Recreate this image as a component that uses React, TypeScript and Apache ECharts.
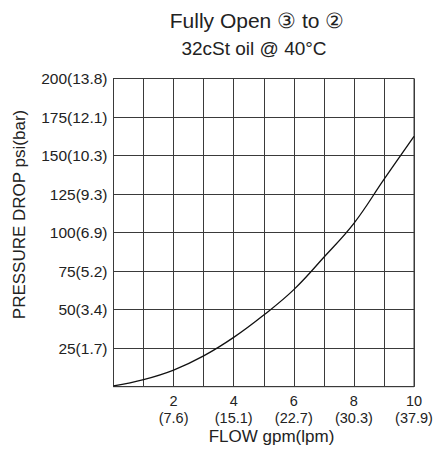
import React, { useEffect, useRef } from "react";
import * as echarts from "echarts";

const flowGpm = [0, 1, 2, 3, 4, 5, 6, 7, 8, 9, 10];
const pressurePsi = [0.5, 4.6, 10.8, 20, 32, 46.5, 63, 84, 106, 134.5, 162.5];
const xTickLabels: Record<number, string> = {
  2: "2\n(7.6)",
  4: "4\n(15.1)",
  6: "6\n(22.7)",
  8: "8\n(30.3)",
  10: "10\n(37.9)",
};
const yTickLabels: Record<number, string> = {
  25: "25(1.7)",
  50: "50(3.4)",
  75: "75(5.2)",
  100: "100(6.9)",
  125: "125(9.3)",
  150: "150(10.3)",
  175: "175(12.1)",
  200: "200(13.8)",
};
const titleText = "Fully Open ③ to ②";
const subtitleText = "32cSt oil @ 40°C";
const xName = "FLOW gpm(lpm)";
const yName = "PRESSURE DROP psi(bar)";

const FONT = "'Liberation Sans', Arial, Helvetica, sans-serif";

export default function App() {
  const ref = useRef<HTMLDivElement>(null);
  useEffect(() => {
    if (!ref.current) return;
    const chart = echarts.init(ref.current, null, { renderer: "svg" });
    const gridColor = "#3a3a3a";
    chart.setOption({
      animation: false,
      backgroundColor: "#ffffff",
      textStyle: { fontFamily: FONT },
      graphic: [
        {
          type: "text",
          x: 257,
          y: 20,
          style: {
            text: titleText,
            font: `21px ${FONT}`,
            fill: "#222",
            textAlign: "center",
            textVerticalAlign: "middle",
          },
        },
        {
          type: "text",
          x: 254,
          y: 48,
          style: {
            text: subtitleText,
            font: `19px ${FONT}`,
            fill: "#222",
            textAlign: "center",
            textVerticalAlign: "middle",
          },
        },
        {
          type: "text",
          x: 271.5,
          y: 436,
          style: {
            text: xName,
            font: `17px ${FONT}`,
            fill: "#222",
            textAlign: "center",
            textVerticalAlign: "middle",
          },
        },
        {
          type: "text",
          x: 19,
          y: 214.5,
          rotation: Math.PI / 2,
          style: {
            text: yName,
            font: `17px ${FONT}`,
            fill: "#222",
            textAlign: "center",
            textVerticalAlign: "middle",
          },
        },
      ],
      grid: {
        left: 113.5,
        right: 23,
        top: 78.5,
        bottom: 72.3,
        show: true,
        borderColor: gridColor,
        borderWidth: 1,
      },
      xAxis: {
        type: "value",
        min: 0,
        max: 10,
        interval: 1,
        axisLine: { show: true, lineStyle: { color: gridColor } },
        axisTick: { show: false },
        axisLabel: {
          fontSize: 14.5,
          color: "#222",
          lineHeight: 17,
          margin: 6,
          fontFamily: FONT,
          formatter: (v: number) => xTickLabels[v] ?? "",
        },
        splitLine: { show: true, lineStyle: { color: gridColor, width: 1 } },
      },
      yAxis: {
        type: "value",
        min: 0,
        max: 200,
        interval: 25,
        axisLine: { show: true, lineStyle: { color: gridColor } },
        axisTick: { show: false },
        axisLabel: {
          fontSize: 15.5,
          color: "#222",
          margin: 6,
          fontFamily: FONT,
          formatter: (v: number) => yTickLabels[v] ?? "",
        },
        splitLine: { show: true, lineStyle: { color: gridColor, width: 1 } },
      },
      series: [
        {
          type: "line",
          data: flowGpm.map((x, i) => [x, pressurePsi[i]]),
          smooth: 0.4,
          symbol: "none",
          lineStyle: { color: "#111", width: 1.3 },
        },
      ],
    });
    return () => chart.dispose();
  }, []);
  return (
    <div
      ref={ref}
      style={{ position: "absolute", left: 0, top: 0, width: 437, height: 459 }}
    />
  );
}
